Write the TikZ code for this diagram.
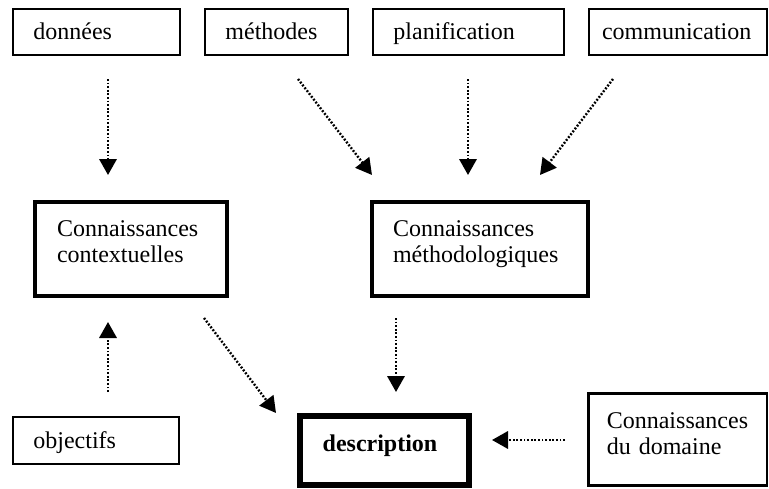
\documentclass[tikz,border=0pt]{standalone}
\usepackage{fontspec}
\setmainfont{Liberation Serif}
\usetikzlibrary{arrows.meta}

\begin{document}
\begin{tikzpicture}[x=0.75pt,y=-0.75pt]
        \useasboundingbox (0,0) rectangle (769,489);
        \begin{scope}[every node/.style={draw,rectangle,line width=1.3pt,align=left,inner xsep=15.5pt,inner ysep=0pt,text height=12pt,text depth=0pt,font=\fontsize{18}{20}\selectfont}]
        \node[text width=94.6pt,minimum height=34.9pt] (donnees) at (96.5,32) {données};
        \node[text width=76.6pt,minimum height=34.9pt] (methodes) at (276.5,32) {méthodes};
        \node[text width=112.6pt,minimum height=34.9pt] (planif) at (468.5,32) {planification};
        \node[text width=113.9pt,inner xsep=10pt,minimum height=34.9pt] (comm) at (678,32) {communication};
        \node[line width=3pt,text width=111pt,inner xsep=16.5pt,minimum height=70.5pt,text depth=31.5pt] (ctx) at (131,249) {Connaissances\\contextuelles};
        \node[line width=3pt,text width=130.5pt,inner xsep=15.75pt,minimum height=70.5pt,text depth=31.5pt] (meth) at (480,249) {Connaissances\\méthodologiques};
        \node[text width=93.9pt,minimum height=35.6pt] (objectifs) at (96,440.5) {objectifs};
        \node[line width=4.5pt,text width=92.75pt,inner xsep=17pt,minimum height=51.75pt,text depth=10pt] (descr) at (384.5,450.5) {\bfseries description};
        \node[line width=2pt,text width=106pt,inner xsep=14pt,minimum height=69.4pt,text depth=29pt] (domaine) at (677.5,439.5) {Connaissances\\du domaine};
        \end{scope}
        \coordinate (s1) at (108,79);  \coordinate (e1) at (108,175);
        \coordinate (s2) at (298,79);  \coordinate (e2) at (372,175);
        \coordinate (s3) at (468,79);  \coordinate (e3) at (468,175);
        \coordinate (s4) at (613,79);  \coordinate (e4) at (540,175);
        \coordinate (s5) at (108,392); \coordinate (e5) at (108,322);
        \coordinate (s6) at (204,318); \coordinate (e6) at (276,413);
        \coordinate (s7) at (396,318); \coordinate (e7) at (396,392);
        \coordinate (s8) at (565,440); \coordinate (e8) at (492,440);
        \begin{scope}[every edge/.style={draw=black,line width=1.8pt,dash pattern=on 1.4pt off 1.3pt,-{Triangle[length=12pt,width=13pt]}}]
        \path (s1) edge (e1);
        \path (s2) edge (e2);
        \path (s3) edge (e3);
        \path (s4) edge (e4);
        \path (s5) edge (e5);
        \path (s6) edge (e6);
        \path (s7) edge (e7);
        \path (s8) edge (e8);
        \end{scope}
        \end{tikzpicture}
\end{document}
